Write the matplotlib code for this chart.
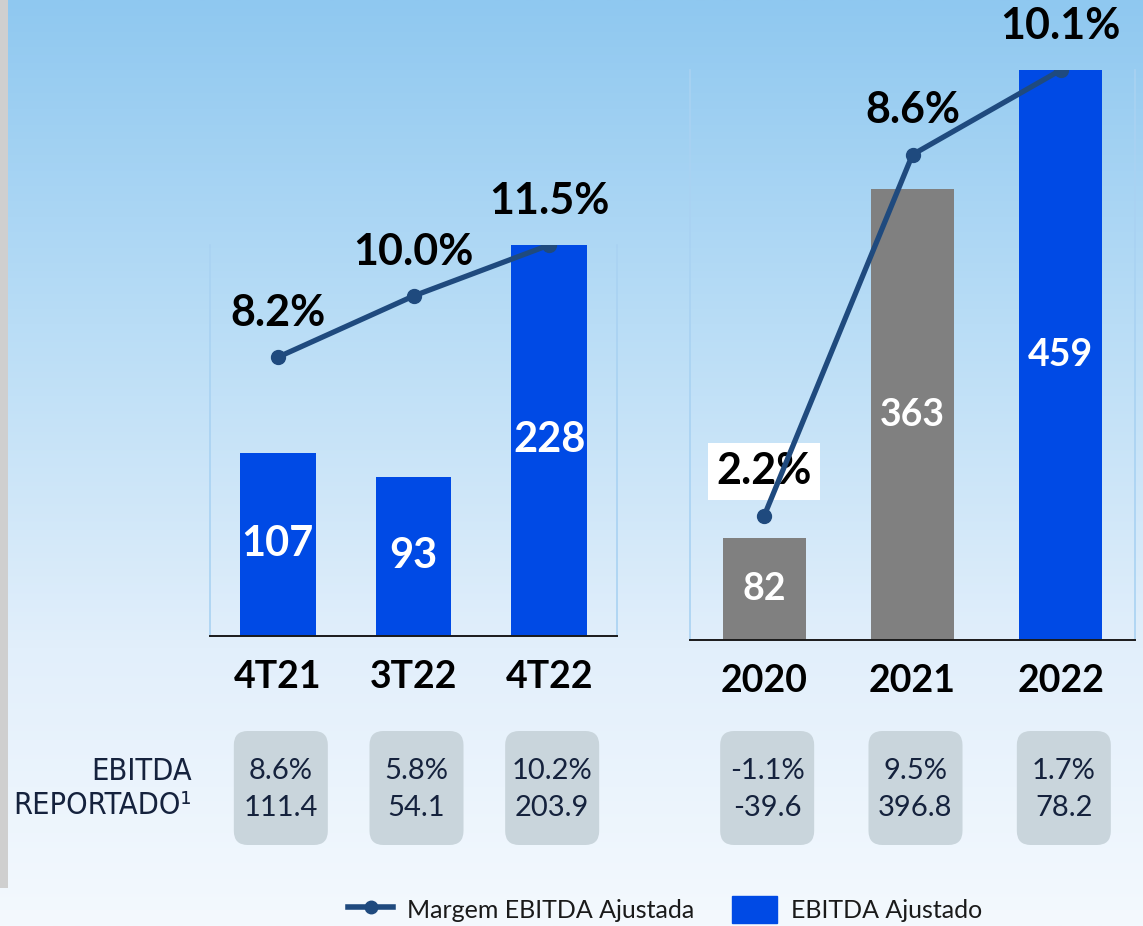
import numpy as np
import matplotlib
matplotlib.use("Agg")
import matplotlib.pyplot as plt
from matplotlib.patches import FancyBboxPatch, Rectangle, Patch
from matplotlib.lines import Line2D

# data
quarters = ["4T21", "3T22", "4T22"]
ebitda_q = [107, 93, 228]
margin_q = [8.2, 10.0, 11.5]
rep_margin_q = ["8.6%", "5.8%", "10.2%"]
rep_value_q = ["111.4", "54.1", "203.9"]

years = ["2020", "2021", "2022"]
ebitda_y = [82, 363, 459]
margin_y = [2.2, 8.6, 10.1]
rep_margin_y = ["-1.1%", "9.5%", "1.7%"]
rep_value_y = ["-39.6", "396.8", "78.2"]

BLUE = "#004AE5"
GRAY = "#808080"
LINE = "#1F4A7E"
BOX = "#C9D5DC"
NAVY = "#15223D"
FONT = "Lato"

W, H = 1143, 926
fig = plt.figure(figsize=(W / 100, H / 100), dpi=100)

# gradient background
bg = fig.add_axes([0, 0, 1, 1], zorder=-10)
t = np.linspace(0, 1, 400)
stops = [0, 0.35, 0.7, 1.0]
cols = np.array([[143, 200, 240], [185, 221, 246], [226, 239, 251], [244, 249, 254]]) / 255
grad = np.stack([np.interp(t, stops, cols[:, c]) for c in range(3)], axis=-1)
bg.imshow(grad[:, None, :], aspect="auto", extent=[0, 1, 0, 1])
bg.axis("off")


def panel(rect, cats, vals, margins, colors, pct_top, val_size, boxed=None):
    ax = fig.add_axes(rect)
    ax.set_facecolor("none")
    x = np.arange(len(cats))
    bars = ax.bar(x, vals, width=0.56, color=colors, zorder=2)
    ax.bar_label(bars, labels=[str(v) for v in vals], label_type="center",
                 color="white", fontweight="bold", fontsize=val_size, family=FONT)
    ax.set_xlim(-0.5, 2.5)
    ax.set_ylim(0, max(vals))
    ax.set_yticks([])
    ax.set_xticks(x, labels=cats, fontsize=27, fontweight="bold", family=FONT)
    ax.tick_params(axis="x", length=0, pad=17)
    ax.spines["top"].set_visible(False)
    for s in ("left", "right"):
        ax.spines[s].set_color("#A9D2F2")
        ax.spines[s].set_linewidth(1.2)
    ax.spines["bottom"].set_color("#1a1a1a")
    ax.spines["bottom"].set_linewidth(1.4)

    ax2 = ax.twinx()
    ax2.set_ylim(0, pct_top)
    ax2.plot(x, margins, color=LINE, lw=3.8, marker="o", ms=10, zorder=5)
    ax2.set_yticks([])
    for s in ax2.spines.values():
        s.set_visible(False)
    for i, m in enumerate(margins):
        kw = {}
        if boxed == i:
            kw["bbox"] = dict(fc="white", ec="none", pad=6)
        ax2.annotate(f"{m:.1f}%", (i, m), xytext=(0, 32), textcoords="offset points",
                     ha="center", va="center", fontsize=31, fontweight="bold",
                     family=FONT, color="black", **kw)
    return ax


axl = panel([210 / W, 1 - 636 / H, 407 / W, 391 / H], quarters, ebitda_q, margin_q,
            [BLUE] * 3, 11.5, 30)
axr = panel([690 / W, 1 - 640 / H, 445 / W, 570 / H], years, ebitda_y, margin_y,
            [GRAY, GRAY, BLUE], 10.1, 27, boxed=0)

# overlay in pixel coords for the reported boxes
ov = fig.add_axes([0, 0, 1, 1], zorder=10)
ov.set_xlim(0, W)
ov.set_ylim(H, 0)
ov.axis("off")
ov.add_patch(Rectangle((0, 0), 8, 888, color="#CFCFCF", lw=0))

r = 14
for ax, margins, values in ((axl, rep_margin_q, rep_value_q), (axr, rep_margin_y, rep_value_y)):
    for i, (m, v) in enumerate(zip(margins, values)):
        cx = ax.transData.transform((i, 0))[0] + 3
        ov.add_patch(FancyBboxPatch((cx - 47 + r, 731 + r), 94 - 2 * r, 114 - 2 * r,
                                    boxstyle=f"round,pad={r}", fc=BOX, ec="none"))
        ov.text(cx, 771, m, ha="center", va="center", fontsize=21, color=NAVY, family=FONT)
        ov.text(cx, 808, v, ha="center", va="center", fontsize=21, color=NAVY, family=FONT)

lab_kw = dict(ha="right", va="center", fontsize=22, color=NAVY,
              family="DejaVu Sans", fontstretch="condensed")
ov.text(192, 771, "EBITDA", **lab_kw)
ov.text(192, 806, "REPORTADO¹", **lab_kw)

handles = [Line2D([], [], color=LINE, lw=4, marker="o", ms=9),
           Patch(color=BLUE)]
fig.legend(handles, ["Margem EBITDA Ajustada", "EBITDA Ajustado"], loc="center",
           bbox_to_anchor=(0.582, 0.018), ncol=2, frameon=False,
           prop={"family": FONT, "size": 18}, handlelength=1.8, handleheight=1.3,
           handletextpad=0.55, columnspacing=1.5, labelcolor="#1a1a1a")

fig.savefig("out.png", dpi=100)
